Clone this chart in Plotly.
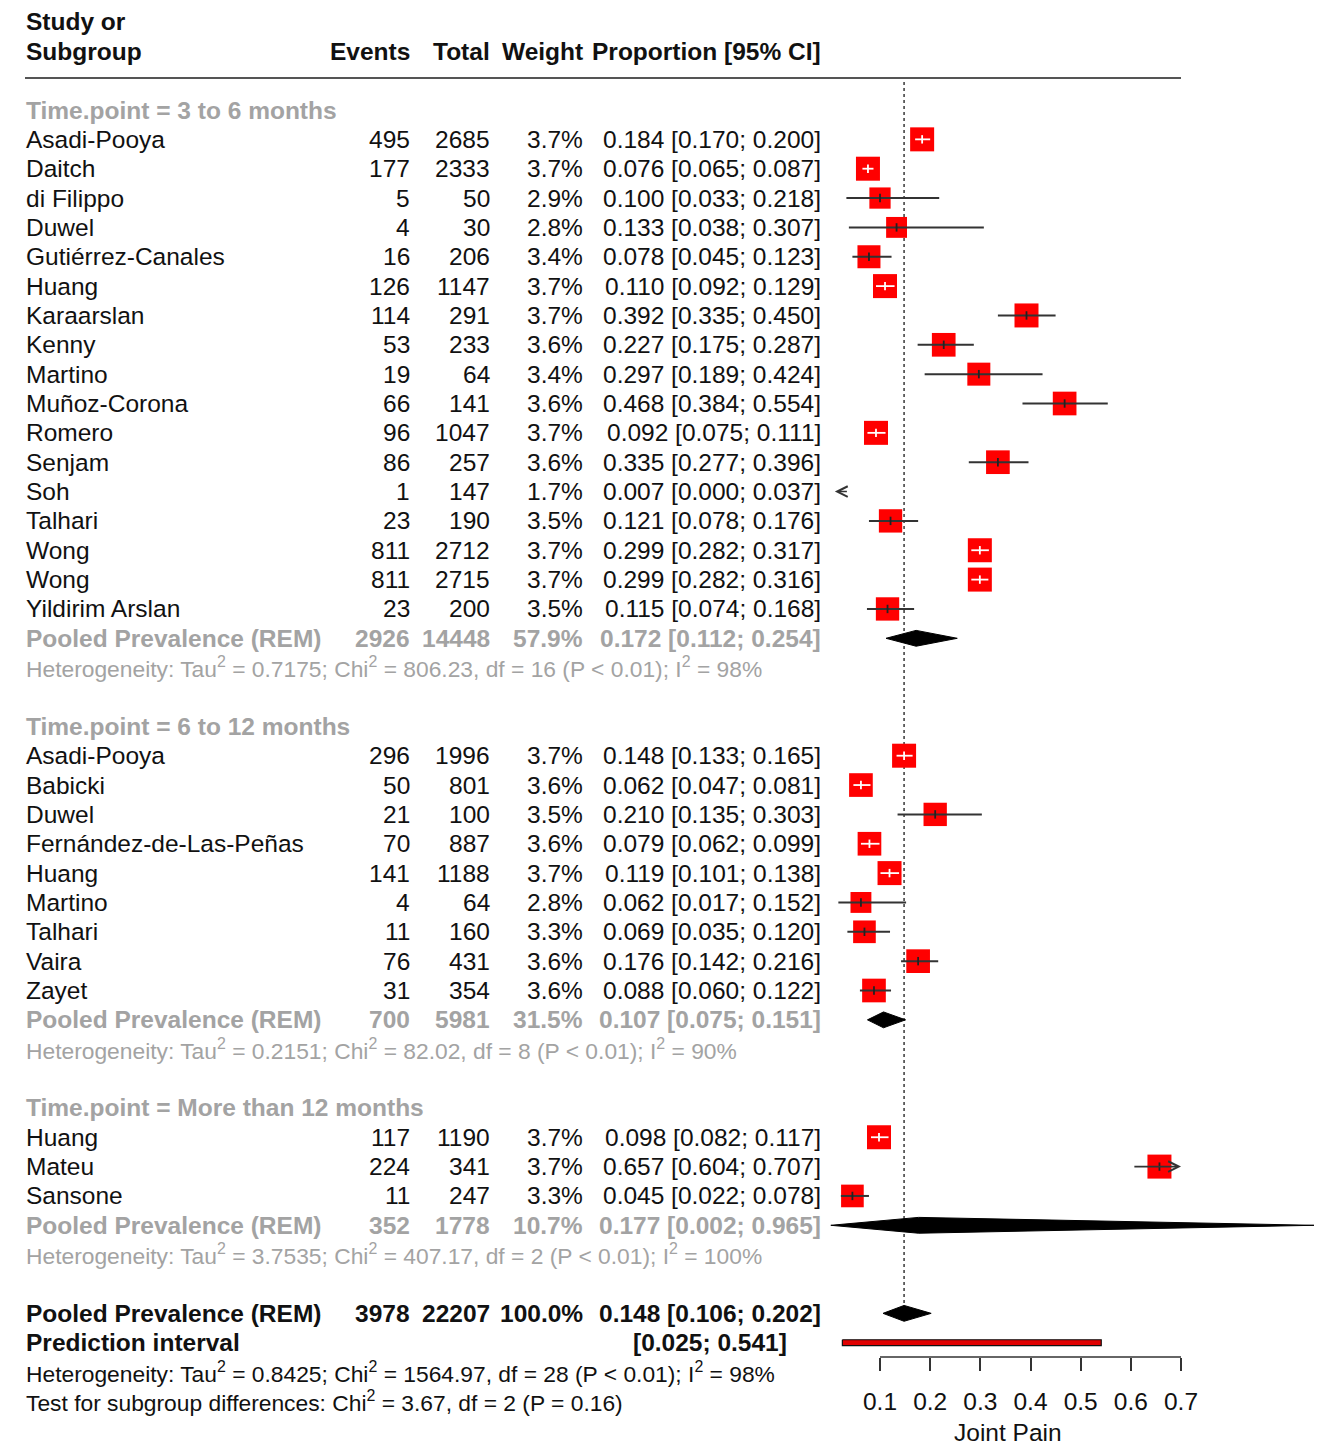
import plotly.graph_objects as go

# ---------------- data ----------------
group_labels = ["Time.point = 3 to 6 months", "Time.point = 6 to 12 months",
                "Time.point = More than 12 months"]

g1_study = ["Asadi-Pooya", "Daitch", "di Filippo", "Duwel", "Gutiérrez-Canales", "Huang",
            "Karaarslan", "Kenny", "Martino", "Muñoz-Corona", "Romero", "Senjam", "Soh",
            "Talhari", "Wong", "Wong", "Yildirim Arslan"]
g1_events = [495, 177, 5, 4, 16, 126, 114, 53, 19, 66, 96, 86, 1, 23, 811, 811, 23]
g1_total = [2685, 2333, 50, 30, 206, 1147, 291, 233, 64, 141, 1047, 257, 147, 190, 2712, 2715, 200]
g1_weight = [3.7, 3.7, 2.9, 2.8, 3.4, 3.7, 3.7, 3.6, 3.4, 3.6, 3.7, 3.6, 1.7, 3.5, 3.7, 3.7, 3.5]
g1_est = [0.184, 0.076, 0.100, 0.133, 0.078, 0.110, 0.392, 0.227, 0.297, 0.468, 0.092, 0.335,
          0.007, 0.121, 0.299, 0.299, 0.115]
g1_lo = [0.170, 0.065, 0.033, 0.038, 0.045, 0.092, 0.335, 0.175, 0.189, 0.384, 0.075, 0.277,
         0.000, 0.078, 0.282, 0.282, 0.074]
g1_hi = [0.200, 0.087, 0.218, 0.307, 0.123, 0.129, 0.450, 0.287, 0.424, 0.554, 0.111, 0.396,
         0.037, 0.176, 0.317, 0.316, 0.168]

g2_study = ["Asadi-Pooya", "Babicki", "Duwel", "Fernández-de-Las-Peñas", "Huang", "Martino",
            "Talhari", "Vaira", "Zayet"]
g2_events = [296, 50, 21, 70, 141, 4, 11, 76, 31]
g2_total = [1996, 801, 100, 887, 1188, 64, 160, 431, 354]
g2_weight = [3.7, 3.6, 3.5, 3.6, 3.7, 2.8, 3.3, 3.6, 3.6]
g2_est = [0.148, 0.062, 0.210, 0.079, 0.119, 0.062, 0.069, 0.176, 0.088]
g2_lo = [0.133, 0.047, 0.135, 0.062, 0.101, 0.017, 0.035, 0.142, 0.060]
g2_hi = [0.165, 0.081, 0.303, 0.099, 0.138, 0.152, 0.120, 0.216, 0.122]

g3_study = ["Huang", "Mateu", "Sansone"]
g3_events = [117, 224, 11]
g3_total = [1190, 341, 247]
g3_weight = [3.7, 3.7, 3.3]
g3_est = [0.098, 0.657, 0.045]
g3_lo = [0.082, 0.604, 0.022]
g3_hi = [0.117, 0.707, 0.078]

pooled_events = [2926, 700, 352]
pooled_total = [14448, 5981, 1778]
pooled_weight = [57.9, 31.5, 10.7]
pooled_est = [0.172, 0.107, 0.177]
pooled_lo = [0.112, 0.075, 0.002]
pooled_hi = [0.254, 0.151, 0.965]
het_tau2 = ["0.7175", "0.2151", "3.7535"]
het_chi2 = ["806.23", "82.02", "407.17"]
het_df = [16, 8, 2]
het_p = ["< 0.01", "< 0.01", "< 0.01"]
het_i2 = ["98%", "90%", "100%"]

overall_events = 3978
overall_total = 22207
overall_weight = 100.0
overall_est = 0.148
overall_lo = 0.106
overall_hi = 0.202
pred_lo = 0.025
pred_hi = 0.541
overall_het = "Heterogeneity: Tau<sup>2</sup> = 0.8425; Chi<sup>2</sup> = 1564.97, df = 28 (P < 0.01); I<sup>2</sup> = 98%"
subgroup_test = "Test for subgroup differences: Chi<sup>2</sup> = 3.67, df = 2 (P = 0.16)"

tick_vals = [0.1, 0.2, 0.3, 0.4, 0.5, 0.6, 0.7]
tick_text = ["0.1", "0.2", "0.3", "0.4", "0.5", "0.6", "0.7"]
clip_lo = 0.01
x_title = "Joint Pain"

# ---------------- layout geometry ----------------
PAGE_W, PAGE_H = 1325, 1449
OFF = 8                      # page body margin
W, H = PAGE_W - OFF, PAGE_H - OFF
ROW_H = 29.35
ROW0_PX = 110 - OFF
PX_PER_UNIT = 501.7
X0_PX = 880 - OFF            # pixel of first tick
x_range = [tick_vals[0] - X0_PX / PX_PER_UNIT, tick_vals[0] + (W - X0_PX) / PX_PER_UNIT]
y_range = [(H - ROW0_PX) / ROW_H, -ROW0_PX / ROW_H]
clip_hi = max(tick_vals)


def px(p):
    return (p - OFF) / W


def py(p):
    return 1 - (p - OFF) / H


FONT = "Liberation Sans, Arial, sans-serif"
FS = 24.5
FS_SMALL = 22.8
BLACK = "#111111"
GREY = "#a3a3a3"

COL_STUDY = px(24)
COL_EVENTS = px(412)
COL_TOTAL = px(492)
COL_WEIGHT = px(585)
COL_PROP = px(823)
COL_PRED = px(789)

annotations = []


def txt(x, y, s, anchor="left", color=BLACK, bold=False, size=FS, yref="y"):
    if bold:
        s = "<b>" + s + "</b>"
    annotations.append(dict(x=x, y=y, xref="paper", yref=yref, text=s, showarrow=False,
                            xanchor=anchor, yanchor="middle",
                            font=dict(family=FONT, size=size, color=color)))


def fmt_ci(e, l, h):
    return f"{e:.3f} [{l:.3f}; {h:.3f}]"


fig = go.Figure()

# header
txt(COL_STUDY, -3, "Study or", bold=True)
txt(COL_STUDY, -2, "Subgroup", bold=True)
txt(COL_EVENTS, -2, "Events", "right", bold=True)
txt(COL_TOTAL, -2, "Total", "right", bold=True)
txt(COL_WEIGHT, -2, "Weight", "right", bold=True)
txt(COL_PROP, -2, "Proportion [95% CI]", "right", bold=True)

shapes = [dict(type="line", xref="paper", yref="y", x0=px(25), x1=px(1181),
               y0=-1.09, y1=-1.09, line=dict(color="#555555", width=2))]

groups = [
    (g1_study, g1_events, g1_total, g1_weight, g1_est, g1_lo, g1_hi),
    (g2_study, g2_events, g2_total, g2_weight, g2_est, g2_lo, g2_hi),
    (g3_study, g3_events, g3_total, g3_weight, g3_est, g3_lo, g3_hi),
]

sq_x, sq_y, sq_s = [], [], []
ci_black_x, ci_black_y, ci_white_x, ci_white_y = [], [], [], []
pt_black_x, pt_black_y, pt_white_x, pt_white_y = [], [], [], []
arrows = []
diamonds = []

r = 0
for gi, (st, ev, tot, wt, est, lo, hi) in enumerate(groups):
    txt(COL_STUDY, r, group_labels[gi], color=GREY, bold=True)
    r += 1
    for i in range(len(st)):
        txt(COL_STUDY, r, st[i])
        txt(COL_EVENTS, r, str(ev[i]), "right")
        txt(COL_TOTAL, r, str(tot[i]), "right")
        txt(COL_WEIGHT, r, f"{wt[i]:.1f}%", "right")
        txt(COL_PROP, r, fmt_ci(est[i], lo[i], hi[i]), "right")
        size = 24 * (wt[i] / 3.7) ** 0.5
        if clip_lo <= est[i] <= clip_hi:
            sq_x.append(est[i]); sq_y.append(r); sq_s.append(size)
        a = max(lo[i], clip_lo)
        b = min(hi[i], clip_hi)
        inside = (hi[i] - lo[i]) * PX_PER_UNIT < size
        if lo[i] < clip_lo:
            arrows.append((clip_lo, r, b))
        elif hi[i] > clip_hi:
            arrows.append((clip_hi, r, a))
        else:
            if inside:
                ci_white_x += [a, b, None]; ci_white_y += [r, r, None]
            else:
                ci_black_x += [a, b, None]; ci_black_y += [r, r, None]
        if clip_lo <= est[i] <= clip_hi:
            if inside:
                pt_white_x.append(est[i]); pt_white_y.append(r)
            else:
                pt_black_x.append(est[i]); pt_black_y.append(r)
        r += 1
    # pooled
    txt(COL_STUDY, r, "Pooled Prevalence (REM)", color=GREY, bold=True)
    txt(COL_EVENTS, r, str(pooled_events[gi]), "right", color=GREY, bold=True)
    txt(COL_TOTAL, r, str(pooled_total[gi]), "right", color=GREY, bold=True)
    txt(COL_WEIGHT, r, f"{pooled_weight[gi]:.1f}%", "right", color=GREY, bold=True)
    txt(COL_PROP, r, fmt_ci(pooled_est[gi], pooled_lo[gi], pooled_hi[gi]), "right",
        color=GREY, bold=True)
    diamonds.append((pooled_lo[gi], pooled_est[gi], pooled_hi[gi], r))
    r += 1
    txt(COL_STUDY, r,
        f"Heterogeneity: Tau<sup>2</sup> = {het_tau2[gi]}; Chi<sup>2</sup> = {het_chi2[gi]}, "
        f"df = {het_df[gi]} (P {het_p[gi]}); I<sup>2</sup> = {het_i2[gi]}", color=GREY,
        size=FS_SMALL)
    r += 2

# overall
txt(COL_STUDY, r, "Pooled Prevalence (REM)", bold=True)
txt(COL_EVENTS, r, str(overall_events), "right", bold=True)
txt(COL_TOTAL, r, str(overall_total), "right", bold=True)
txt(COL_WEIGHT, r, f"{overall_weight:.1f}%", "right", bold=True)
txt(COL_PROP, r, fmt_ci(overall_est, overall_lo, overall_hi), "right", bold=True)
diamonds.append((overall_lo, overall_est, overall_hi, r))
overall_row = r
r += 1
txt(COL_STUDY, r, "Prediction interval", bold=True)
txt(COL_PRED, r, f"[{pred_lo:.3f}; {pred_hi:.3f}]", "right", bold=True)
pred_row = r
r += 1
txt(COL_STUDY, r, overall_het, size=FS_SMALL)
r += 1
txt(COL_STUDY, r, subgroup_test, size=FS_SMALL)

# reference dotted line
fig.add_trace(go.Scatter(x=[overall_est, overall_est], y=[-0.95, overall_row + 0.27],
                         mode="lines", line=dict(color="#444444", width=1.6, dash="dot"),
                         hoverinfo="skip"))

# squares
fig.add_trace(go.Scatter(x=sq_x, y=sq_y, mode="markers",
                         marker=dict(symbol="square", size=sq_s, color="#ff0000", opacity=1,
                                     line=dict(width=0)), hoverinfo="skip"))
# CI lines
fig.add_trace(go.Scatter(x=ci_black_x, y=ci_black_y, mode="lines",
                         line=dict(color="#333333", width=2), hoverinfo="skip"))
fig.add_trace(go.Scatter(x=ci_white_x, y=ci_white_y, mode="lines",
                         line=dict(color="#ffffff", width=1.8), hoverinfo="skip"))
fig.add_trace(go.Scatter(x=pt_black_x, y=pt_black_y, mode="markers",
                         marker=dict(symbol="line-ns", size=6, opacity=1,
                                     line=dict(color="#222222", width=1.8)), hoverinfo="skip"))
fig.add_trace(go.Scatter(x=pt_white_x, y=pt_white_y, mode="markers",
                         marker=dict(symbol="line-ns", size=6, opacity=1,
                                     line=dict(color="#ffffff", width=1.8)), hoverinfo="skip"))

# arrows for clipped CIs
for head, yy, tail in arrows:
    annotations.append(dict(x=head, y=yy, ax=tail, ay=yy, xref="x", yref="y", axref="x",
                            ayref="y", text="", showarrow=True, arrowhead=5, arrowsize=1.3,
                            arrowwidth=1.6, arrowcolor="#333333"))

# diamonds
DH = 0.27
for lo_, e_, hi_, yy in diamonds:
    fig.add_trace(go.Scatter(x=[lo_, e_, hi_, e_, lo_], y=[yy, yy - DH, yy, yy + DH, yy],
                             mode="lines", fill="toself", fillcolor="#000000",
                             line=dict(color="#000000", width=1), hoverinfo="skip"))

# prediction interval bar
PH = 0.1
fig.add_trace(go.Scatter(x=[pred_lo, pred_hi, pred_hi, pred_lo, pred_lo],
                         y=[pred_row - PH, pred_row - PH, pred_row + PH, pred_row + PH, pred_row - PH],
                         mode="lines", fill="toself", fillcolor="#e00000",
                         line=dict(color="#111111", width=1.2), hoverinfo="skip"))

# axis line (only across tick span)
axis_pos = py(1357)
shapes.append(dict(type="line", xref="x", yref="paper", x0=min(tick_vals), x1=max(tick_vals),
                   y0=axis_pos, y1=axis_pos, line=dict(color="#333333", width=1.5)))

annotations.append(dict(x=px(1008), y=py(1432), xref="paper", yref="paper", text=x_title,
                        showarrow=False, xanchor="center", yanchor="middle",
                        font=dict(family=FONT, size=FS, color=BLACK)))

fig.update_layout(
    width=W, height=H, margin=dict(l=0, r=0, t=0, b=0),
    paper_bgcolor="white", plot_bgcolor="white", showlegend=False,
    xaxis=dict(range=x_range, anchor="free", position=axis_pos, showgrid=False,
               zeroline=False, showline=False, tickvals=tick_vals, ticktext=tick_text,
               ticks="outside", ticklen=13, tickwidth=1.5, tickcolor="#333333",
               ticklabelstandoff=10,
               tickfont=dict(family=FONT, size=FS, color=BLACK), fixedrange=True),
    yaxis=dict(range=y_range, visible=False, fixedrange=True),
    annotations=annotations, shapes=shapes,
)

fig.write_html("out.html")
